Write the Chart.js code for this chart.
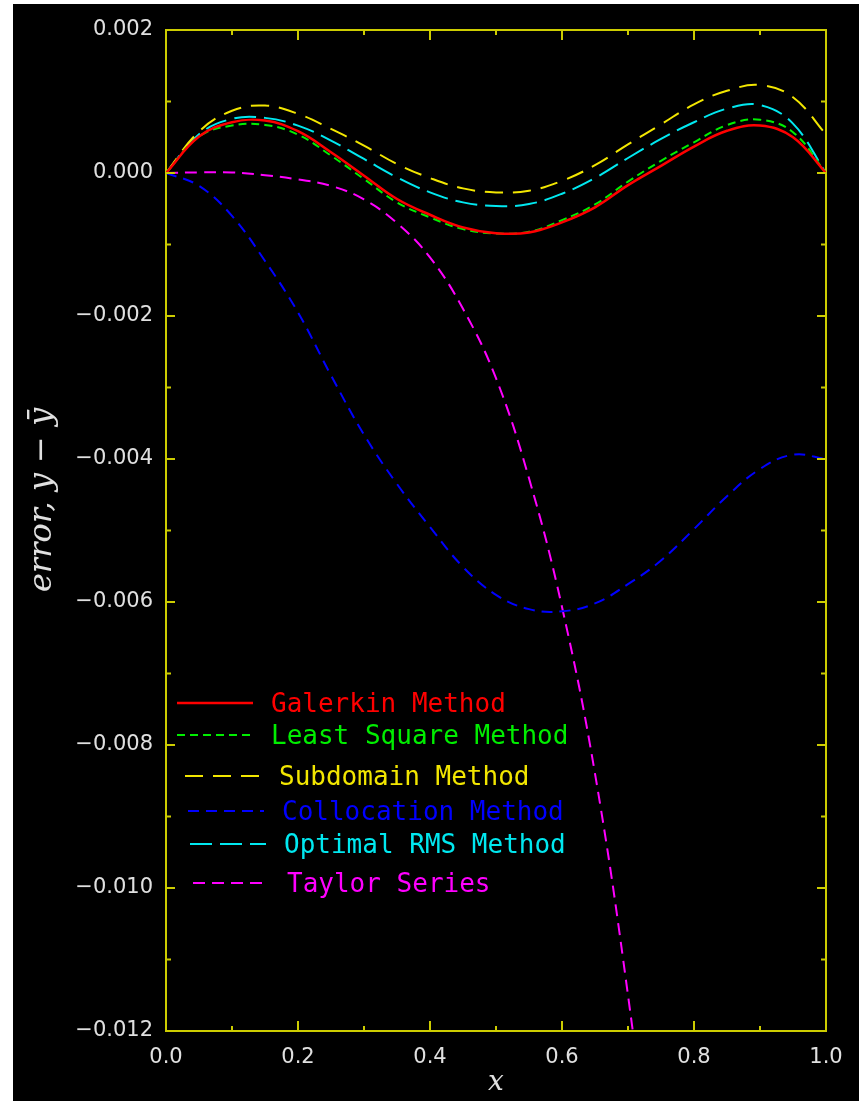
<!DOCTYPE html>
<html>
<head>
<meta charset="utf-8">
<script src="https://cdn.jsdelivr.net/npm/chart.js@4.4.0/dist/chart.umd.min.js"></script>
<style>
body{margin:0;background:#fff;}
#wrap{position:absolute;left:13px;top:4px;width:846px;height:1097px;background:#000;}
</style>
</head>
<body>
<div id="wrap"><canvas id="errChart"></canvas></div>
<script>
// x positions of the sampled points
const xs=[0,0.05,0.1,0.15,0.2,0.25,0.3,0.35,0.4,0.45,0.5,0.55,0.6,0.65,0.7,0.75,0.8,0.85,0.9,0.95,1.0];

// error y - ybar for each method
const galerkin=[0,0.00051,0.00071,0.000733,0.000584,0.00029,-0.000037,-0.000364,-0.000584,-0.000761,-0.000841,-0.000831,-0.00069,-0.00048,-0.00017,0.0001,0.00037,0.00059,0.000663,0.0005,0];
const leastSquare=[0,0.00051,0.000663,0.000672,0.000537,0.000243,-0.000084,-0.000411,-0.000621,-0.000785,-0.000845,-0.000822,-0.00066,-0.00044,-0.00012,0.00017,0.00043,0.00067,0.000745,0.00057,0];
const subdomain=[0,0.00058,0.00087,0.000943,0.000827,0.000616,0.000383,0.000126,-0.00007,-0.000215,-0.000271,-0.000248,-0.00011,0.00011,0.0004,0.00068,0.00096,0.00115,0.00123,0.00106,0.00054];
const collocation=[0,-0.00018,-0.0006,-0.00123,-0.00195,-0.00283,-0.00366,-0.00435,-0.00495,-0.00551,-0.0059,-0.0061,-0.00613,-0.00602,-0.00575,-0.00542,-0.00498,-0.00452,-0.00414,-0.00394,-0.004];
const optimalRMS=[0,0.00054,0.000757,0.000771,0.000663,0.000453,0.000196,-0.000061,-0.000271,-0.000411,-0.000462,-0.000434,-0.00029,-0.00007,0.00021,0.000476,0.00071,0.0009,0.00095,0.00069,0];
const taylor=[0,0.000008,0.000008,-0.00003,-0.00009,-0.00018,-0.00037,-0.0007,-0.00118,-0.0019,-0.00287,-0.00427,-0.00607,-0.0084,-0.0115,-0.0152];

const labels=['Galerkin Method','Least Square Method','Subdomain Method','Collocation Method','Optimal RMS Method','Taylor Series'];
const series=[galerkin,leastSquare,subdomain,collocation,optimalRMS,taylor];
const colors=['#ff0000','#00ee00','#f2e600','#0000ff','#00e8f0','#ff00ff'];
const dashes=[[],[8,5],[18,10],[11,7],[22,8],[12,7]];

const AXIS='#cccc00';
const TXT='#e0e0e0';

const datasets=series.map((s,i)=>({
  label:labels[i],
  data:s.map((v,j)=>({x:xs[j],y:v})),
  borderColor:colors[i],
  borderDash:dashes[i],
  borderWidth:i===0?2.5:2,
  pointRadius:0,
  tension:0.4,
  fill:false
}));

// inward ticks on all four sides of the frame
const frameTicks={
  id:'frameTicks',
  afterDraw(chart){
    const {ctx,chartArea:a,scales:{x,y}}=chart;
    ctx.save();
    ctx.strokeStyle=AXIS;ctx.lineWidth=2;
    ctx.beginPath();
    for(let i=0;i<=10;i++){
      const px=x.getPixelForValue(i/10);
      const len=i%2===0?10:5;
      ctx.moveTo(px,a.bottom);ctx.lineTo(px,a.bottom-len);
      ctx.moveTo(px,a.top);ctx.lineTo(px,a.top+len);
    }
    for(let i=0;i<=14;i++){
      const py=y.getPixelForValue(-0.012+i*0.001);
      const len=i%2===0?9:5;
      ctx.moveTo(a.left,py);ctx.lineTo(a.left+len,py);
      ctx.moveTo(a.right,py);ctx.lineTo(a.right-len,py);
    }
    ctx.stroke();
    ctx.restore();
  }
};

// legend drawn inside the plot, lower left
const boxLegend={
  id:'boxLegend',
  afterDatasetsDraw(chart){
    const {ctx,chartArea:a}=chart;
    const rowY=[673,705,746,781,814,853];
    const rowX=[11,11,19,22,24,27];
    ctx.save();
    ctx.font='26px "DejaVu Sans Mono"';
    ctx.textBaseline='middle';
    chart.data.datasets.forEach((ds,i)=>{
      const x0=a.left+rowX[i],y0=a.top+rowY[i];
      ctx.strokeStyle=ds.borderColor;
      ctx.lineWidth=ds.borderWidth;
      ctx.setLineDash(ds.borderDash);
      ctx.beginPath();ctx.moveTo(x0,y0);ctx.lineTo(x0+76,y0);ctx.stroke();
      ctx.setLineDash([]);
      ctx.fillStyle=ds.borderColor;
      ctx.fillText(ds.label,x0+94,y0+2);
    });
    ctx.restore();
  }
};

const fmt=v=>{
  if(Math.abs(v)<1e-9) v=0;
  return v.toFixed(3).replace('-','\u2212');
};

new Chart(document.getElementById('errChart'),{
  type:'line',
  data:{datasets},
  plugins:[frameTicks,boxLegend],
  options:{
    responsive:true,
    maintainAspectRatio:false,
    animation:false,
    devicePixelRatio:1,
    layout:{padding:{top:26,left:0,right:0,bottom:0}},
    plugins:{legend:{display:false},tooltip:{enabled:false}},
    scales:{
      x:{
        type:'linear',position:'bottom',min:0,max:1,
        afterFit:s=>{s.height=70;},
        ticks:{stepSize:0.2,color:TXT,font:{family:'"DejaVu Sans"',size:21},padding:14,maxRotation:0,autoSkip:false,
          callback:v=>v.toFixed(1)},
        grid:{drawOnChartArea:false,drawTicks:false},
        border:{color:AXIS,width:2},
        title:{display:true,text:'x',color:TXT,font:{family:'"DejaVu Serif"',style:'italic',size:28},padding:{top:0,bottom:1}}
      },
      x2:{
        type:'linear',position:'top',min:0,max:1,
        afterFit:s=>{s.height=0;},
        ticks:{display:false},
        grid:{drawOnChartArea:false,drawTicks:false},
        border:{color:AXIS,width:2}
      },
      y:{
        type:'linear',position:'left',min:-0.012,max:0.002,
        afterFit:s=>{s.width=153;},
        ticks:{stepSize:0.002,color:TXT,font:{family:'"DejaVu Sans"',size:21},padding:13,callback:fmt},
        grid:{drawOnChartArea:false,drawTicks:false},
        border:{color:AXIS,width:2},
        title:{display:true,text:'      error, y \u2212 \u0233',color:TXT,font:{family:'"DejaVu Serif"',style:'italic',size:32},padding:{top:10,bottom:0}}
      },
      y2:{
        type:'linear',position:'right',min:-0.012,max:0.002,
        afterFit:s=>{s.width=33;},
        ticks:{display:false},
        grid:{drawOnChartArea:false,drawTicks:false},
        border:{color:AXIS,width:2}
      }
    }
  }
});
</script>
</body>
</html>
